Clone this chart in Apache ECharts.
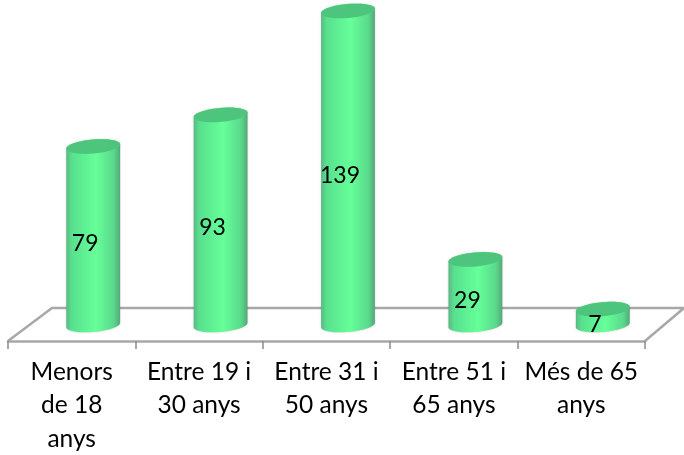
<!DOCTYPE html>
<html>
<head>
<meta charset="utf-8">
<style>html,body{margin:0;padding:0;background:#fff}#c{width:684px;height:455px}</style>
<script src="https://cdn.jsdelivr.net/npm/echarts@6/dist/echarts.min.js"></script>
</head>
<body>
<div id="c"></div>
<script>
const categories = ["Menors\nde 18\nanys", "Entre 19 i\n30 anys", "Entre 31 i\n50 anys", "Entre 51 i\n65 anys", "Més de 65\nanys"];
const values = [79, 93, 139, 29, 7];

const FONT = 'Lato';
const RX = 27, RY = 7, TILT = -5 * Math.PI / 180, SHIFT = 21.5;

function ellipsePoint(cx, cy, t) {
  const x = RX * Math.cos(t), y = RY * Math.sin(t);
  return [cx + x * Math.cos(TILT) - y * Math.sin(TILT), cy + x * Math.sin(TILT) + y * Math.cos(TILT)];
}
function arc(cx, cy, from, to) {
  const pts = [];
  for (let i = 0; i <= 40; i++) pts.push(ellipsePoint(cx, cy, from + (to - from) * i / 40));
  return pts;
}

function renderItem(params, api) {
  const top = api.coord([api.value(0), api.value(1)]);
  const base = api.coord([api.value(0), 0]);
  const cx = top[0] + SHIFT;
  const body = arc(cx, top[1], Math.PI, 2 * Math.PI).concat(arc(cx, base[1], 0, Math.PI));
  const lid = arc(cx, top[1], 0, 2 * Math.PI);
  return {
    type: 'group',
    children: [
      {
        type: 'polygon',
        shape: { points: body },
        style: {
          fill: new echarts.graphic.LinearGradient(0, 0, 1, 0, [
            { offset: 0, color: '#5bb883' },
            { offset: 0.1, color: '#58e08e' },
            { offset: 0.55, color: '#66ff99' },
            { offset: 0.88, color: '#5ad98c' },
            { offset: 1, color: '#54a878' }
          ]),
          shadowColor: 'rgba(0,0,0,0.22)',
          shadowBlur: 2
        }
      },
      { type: 'polygon', shape: { points: lid }, style: { fill: '#4ec57c' } },
      {
        type: 'text',
        style: {
          text: String(api.value(1)),
          x: cx - 8,
          y: (top[1] + base[1]) / 2 + 8,
          align: 'center',
          verticalAlign: 'middle',
          font: '23px ' + FONT,
          fill: '#000'
        }
      }
    ]
  };
}

const chart = echarts.init(document.getElementById('c'), null, { renderer: 'canvas' });
chart.setOption({
  animation: false,
  backgroundColor: '#fff',
  grid: { left: 8, right: 39, top: 11, bottom: 114, outerBoundsMode: 'none' },
  xAxis: {
    type: 'category',
    data: categories,
    boundaryGap: true,
    axisLine: { show: true, onZero: false, lineStyle: { color: '#a8a8a8', width: 2.5 } },
    axisTick: { show: true, length: 8, alignWithLabel: false, lineStyle: { color: '#8c8c8c', width: 1.5 } },
    axisLabel: { interval: 0, color: '#000', fontFamily: FONT, fontSize: 24.5, lineHeight: 33.5, margin: 14 }
  },
  yAxis: { type: 'value', min: -7.1, max: 139, show: false, splitLine: { show: false } },
  graphic: [{
    type: 'polyline',
    z: 0,
    silent: true,
    shape: { points: [[8, 341], [52, 308], [684, 308], [645, 341]] },
    style: { stroke: '#a8a8a8', lineWidth: 2.5, fill: null }
  }],
  series: [{
    type: 'custom',
    renderItem,
    z: 5,
    clip: false,
    encode: { x: 0, y: 1 },
    data: categories.map((c, i) => [i, values[i]])
  }]
});
</script>
</body>
</html>
